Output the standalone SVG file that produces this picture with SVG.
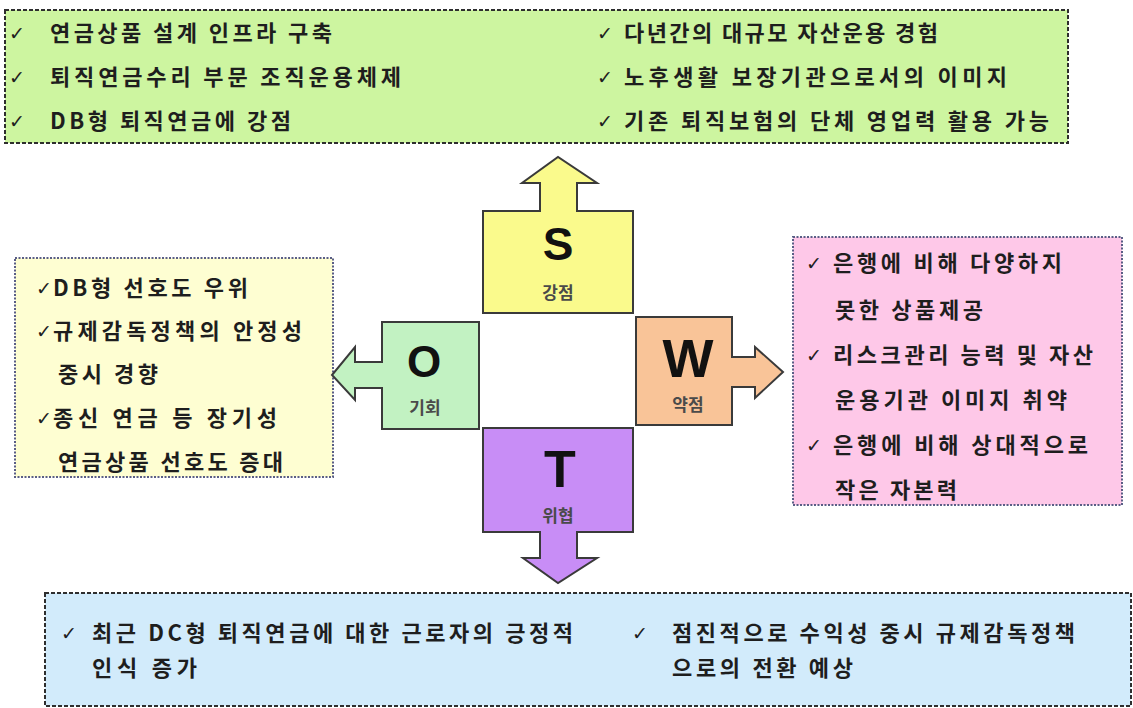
<svg xmlns="http://www.w3.org/2000/svg" width="1133" height="708" viewBox="0 0 1133 708">
<style>
.t{font-family:"Noto Sans CJK KR","Noto Sans",sans-serif;font-size:22px;font-weight:700;fill:#1e1e1e}
.ck{font-family:"DejaVu Sans",sans-serif;font-size:19px;font-weight:700;fill:#1e1e1e}
.big{font-family:"Liberation Sans",Arial,sans-serif;font-weight:700;fill:#111;text-anchor:middle}
.lab{font-family:"Noto Sans CJK KR",sans-serif;font-size:17px;font-weight:700;fill:#4a4a4a;text-anchor:middle}
.dash{stroke:#2e2e2e;stroke-width:2;stroke-dasharray:4 2}
.dot{stroke:#5a5e86;stroke-width:2;stroke-dasharray:2 1.5}
.sh{stroke:#3a3a3a;stroke-width:2;stroke-linejoin:miter}
</style>
<rect width="1133" height="708" fill="#ffffff"/>
<g id="strengths-box">
<rect x="5" y="10" width="1063" height="133" fill="#cdf5a0" class="dash"/>
<text class="ck" x="9" y="40">✓</text>
<text class="t" x="50" y="41" textLength="282" lengthAdjust="spacing">연금상품 설계 인프라 구축</text>
<text class="ck" x="9" y="84">✓</text>
<text class="t" x="50" y="85" textLength="351" lengthAdjust="spacing">퇴직연금수리 부문 조직운용체제</text>
<text class="ck" x="9" y="128">✓</text>
<text class="t" x="50" y="129" textLength="241" lengthAdjust="spacing">DB형 퇴직연금에 강점</text>
<text class="ck" x="597" y="40">✓</text>
<text class="t" x="624" y="41" textLength="314" lengthAdjust="spacing">다년간의 대규모 자산운용 경험</text>
<text class="ck" x="597" y="84">✓</text>
<text class="t" x="624" y="85" textLength="383" lengthAdjust="spacing">노후생활 보장기관으로서의 이미지</text>
<text class="ck" x="597" y="128">✓</text>
<text class="t" x="624" y="129" textLength="425" lengthAdjust="spacing">기존 퇴직보험의 단체 영업력 활용 가능</text>
</g>
<g id="opportunities-box">
<rect x="15" y="258" width="318" height="219" fill="#fefed2" class="dot"/>
<text class="ck" x="36" y="295">✓</text>
<text class="t" x="53" y="296" textLength="195" lengthAdjust="spacing">DB형 선호도 우위</text>
<text class="ck" x="36" y="338">✓</text>
<text class="t" x="53" y="339" textLength="249" lengthAdjust="spacing">규제감독정책의 안정성</text>
<text class="t" x="58" y="382" textLength="100" lengthAdjust="spacing">중시 경향</text>
<text class="ck" x="36" y="425">✓</text>
<text class="t" x="53" y="426" textLength="224" lengthAdjust="spacing">종신 연금 등 장기성</text>
<text class="t" x="58" y="470" textLength="225" lengthAdjust="spacing">연금상품 선호도 증대</text>
</g>
<g id="weaknesses-box">
<rect x="793" y="237" width="329" height="268" fill="#fec8e8" class="dot"/>
<text class="ck" x="806" y="270">✓</text>
<text class="t" x="833" y="271" textLength="229" lengthAdjust="spacing">은행에 비해 다양하지</text>
<text class="t" x="835" y="318" textLength="148" lengthAdjust="spacing">못한 상품제공</text>
<text class="ck" x="806" y="362">✓</text>
<text class="t" x="833" y="363" textLength="260" lengthAdjust="spacing">리스크관리 능력 및 자산</text>
<text class="t" x="835" y="408" textLength="232" lengthAdjust="spacing">운용기관 이미지 취약</text>
<text class="ck" x="806" y="452">✓</text>
<text class="t" x="833" y="453" textLength="255" lengthAdjust="spacing">은행에 비해 상대적으로</text>
<text class="t" x="835" y="498" textLength="122" lengthAdjust="spacing">작은 자본력</text>
</g>
<g id="threats-box">
<rect x="45" y="593" width="1086" height="113" fill="#d2ebfb" class="dash"/>
<text class="ck" x="61" y="640">✓</text>
<text class="t" x="92" y="641" textLength="481" lengthAdjust="spacing">최근 DC형 퇴직연금에 대한 근로자의 긍정적</text>
<text class="t" x="92" y="676" textLength="105" lengthAdjust="spacing">인식 증가</text>
<text class="ck" x="632" y="640">✓</text>
<text class="t" x="672" y="641" textLength="403" lengthAdjust="spacing">점진적으로 수익성 중시 규제감독정책</text>
<text class="t" x="672" y="676" textLength="181" lengthAdjust="spacing">으로의 전환 예상</text>
</g>
<g id="connectors">
<path id="arrow-S" class="sh" fill="#fafa8c" d="M483,211 L540,211 L540,183 L522,183 L558,157 L597,183 L577,183 L577,211 L633,211 L633,313 L483,313 Z"/>
<path id="arrow-O" class="sh" fill="#c2f2c2" d="M479,322 L479,429 L382,429 L382,388 L355,388 L355,400 L332,375 L355,347 L355,362 L382,362 L382,322 Z"/>
<path id="arrow-W" class="sh" fill="#f9c498" d="M636,317 L732,317 L732,357 L755,357 L755,347 L783,372 L755,398 L755,387 L732,387 L732,425 L636,425 Z"/>
<path id="arrow-T" class="sh" fill="#c88df6" d="M483,428 L633,428 L633,532 L577,532 L577,558 L597,558 L558,583 L523,558 L540,558 L540,532 L483,532 Z"/>
</g>
<g id="node-S">
<text class="big" x="558" y="260" font-size="46">S</text>
<text class="lab" x="558" y="299">강점</text>
</g>
<g id="node-O">
<text class="big" x="424" y="377" font-size="44">O</text>
<text class="lab" x="425" y="414">기회</text>
</g>
<g id="node-W">
<text class="big" x="688" y="377" font-size="54">W</text>
<text class="lab" x="688" y="411">약점</text>
</g>
<g id="node-T">
<text class="big" x="560" y="487" font-size="52">T</text>
<text class="lab" x="558" y="522">위협</text>
</g>
</svg>
